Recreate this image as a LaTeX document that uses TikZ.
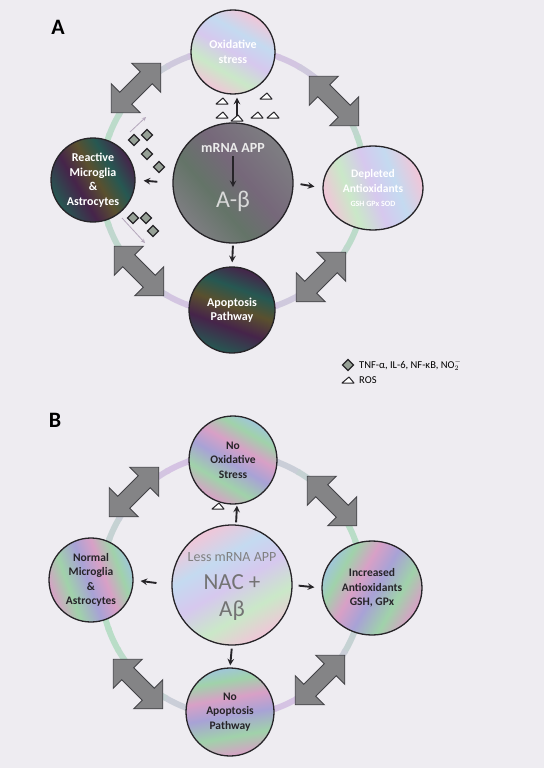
\documentclass[tikz,border=0pt]{standalone}
\usepackage{fontspec}
\setmainfont{Carlito}
\usetikzlibrary{shapes.geometric,shapes.arrows}

% colours of the scan
\definecolor{paper}{RGB}{238,236,241}
\definecolor{ink}{RGB}{38,36,40}
\definecolor{arrowfill}{RGB}{132,132,134}
\definecolor{arrowedge}{RGB}{66,66,70}
\definecolor{ringg}{RGB}{184,222,198}
\definecolor{ringv}{RGB}{214,194,228}
\definecolor{softpink}{RGB}{240,198,216}
\definecolor{softgreen}{RGB}{202,232,200}
\definecolor{softlav}{RGB}{214,200,238}
\definecolor{softblue}{RGB}{196,218,240}
\definecolor{darkteal}{RGB}{38,88,82}
\definecolor{darkplum}{RGB}{70,36,74}
\definecolor{darkolive}{RGB}{90,80,46}
\definecolor{greyg}{RGB}{100,116,104}
\definecolor{greyp}{RGB}{118,104,122}
\definecolor{greym}{RGB}{126,126,130}
\definecolor{midpink}{RGB}{216,160,198}
\definecolor{midgreen}{RGB}{160,210,170}
\definecolor{midlav}{RGB}{168,162,214}
\definecolor{midblue}{RGB}{160,198,216}
\definecolor{tnfgrey}{RGB}{150,160,150}

\pgfdeclarehorizontalshading{paleswirl}{100bp}{color(0bp)=(softpink); color(25bp)=(softpink); color(37bp)=(softgreen); color(50bp)=(softlav); color(62bp)=(softblue); color(75bp)=(softpink); color(100bp)=(softpink)}
\pgfdeclarehorizontalshading{greyswirl}{100bp}{color(0bp)=(greym); color(25bp)=(greym); color(40bp)=(greyg); color(55bp)=(greyp); color(75bp)=(greym); color(100bp)=(greym)}
\pgfdeclarehorizontalshading{darkswirl}{100bp}{color(0bp)=(darkteal); color(25bp)=(darkteal); color(40bp)=(darkplum); color(52bp)=(darkolive); color(63bp)=(darkteal); color(75bp)=(darkplum); color(100bp)=(darkplum)}
\pgfdeclarehorizontalshading{midswirl}{100bp}{color(0bp)=(midpink); color(25bp)=(midpink); color(36bp)=(midgreen); color(48bp)=(midlav); color(58bp)=(midpink); color(68bp)=(midgreen); color(75bp)=(midblue); color(100bp)=(midblue)}

\tikzset{
  stage/.style={circle, draw=ink, line width=1.3pt, inner sep=0pt, align=center,
    font=\bfseries\fontsize{11.5}{14.5}\selectfont},
  pale/.style={shading=paleswirl, shading angle=#1, text=white}, pale/.default=30,
  dim/.style={shading=greyswirl, shading angle=#1}, dim/.default=40,
  dark/.style={shading=darkswirl, shading angle=#1, text=white}, dark/.default=30,
  tint/.style={shading=midswirl, shading angle=#1, text=ink}, tint/.default=30,
  blackarrow/.style={-stealth, line width=1.9pt, ink},
  thinarrow/.style={-stealth, line width=0.8pt, ringv!60!gray},
  twoway/.style={double arrow, double arrow head extend=12pt, minimum height=70pt,
    inner xsep=0pt, inner ysep=8pt, fill=arrowfill, draw=arrowedge, line width=0.9pt},
  ringline/.style={line width=6pt},
  ros/.pic={\draw[ink, line width=1pt, fill=white, line join=round] (-6,0) -- (6,0) -- (1,-6) -- cycle;},
  tnf/.pic={\draw[ink, line width=1.4pt, fill=tnfgrey] (0,-5.5) -- (5.5,0) -- (0,5.5) -- (-5.5,0) -- cycle;},
}

\begin{document}
\begin{tikzpicture}[x=1pt,y=-1pt]
\fill[paper] (0,0) rectangle (544,768);
\useasboundingbox (0,0) rectangle (544,768);

%%%%% panel A
\node[font=\bfseries\fontsize{22}{22}\selectfont] (labA) at (58,27) {A};
\coordinate (hubA) at (233,181);
\foreach \a in {0,10,...,350}{
  \pgfmathtruncatemacro\mix{50+50*cos(2*\a)}
  \draw[ringline, ringg!\mix!ringv] (hubA) ++(\a:132) arc[start angle=\a, delta angle=11, radius=132];
}
\node[twoway, rotate=45] (ttlA) at (136,88) {};
\node[twoway, rotate=-45] (ttrA) at (334,101) {};
\node[twoway, rotate=45] (tbrA) at (321,277) {};
\node[twoway, rotate=-45] (tblA) at (139,271) {};

\node[stage, dim, minimum size=120] (cA) at (233,183) {};
\node[stage, pale=60, minimum size=84, font=\bfseries\fontsize{12}{15}\selectfont] (oxA) at (233,52) {Oxidative\\stress};
\node[stage, dark, minimum size=84, font=\bfseries\fontsize{12}{14.5}\selectfont] (micA) at (93,180) {Reactive\\Microglia\\\&\\Astrocytes};
\node[stage, pale=20, ellipse, minimum width=100, minimum height=84] (antA) at (373,188)
  {Depleted\\Antioxidants\\{\fontsize{8}{9}\selectfont GSH GPx SOD}};
\node[stage, dark=70, minimum size=86, font=\bfseries\fontsize{12}{14.5}\selectfont] (apoA) at (232,310) {Apoptosis\\Pathway};

\node[font=\bfseries\fontsize{14}{14}\selectfont, text=white!92!black] (mrnaA) at (233,148) {mRNA APP};
\node[font=\fontsize{24}{24}\selectfont, text=white!85!black] (abA) at (233,201) {A-β};
\draw[blackarrow] (mrnaA) -- (abA);

\draw[blackarrow, shorten <=4, shorten >=3] ([xshift=4]cA.north) -- ([xshift=4]oxA.south);
\draw[blackarrow, shorten <=15, shorten >=8] (cA.west) -- (micA.east);
\draw[blackarrow, shorten <=7, shorten >=8] (cA.east) -- (antA.west);
\draw[blackarrow, shorten <=2, shorten >=4] (cA.south) -- (apoA.north);

% ROS marks
\foreach \p in {(222,104),(222,118),(266,99),(257,118),(273,118),(237,121)}
  \pic at \p {ros};
% cytokine marks
\foreach \p in {(134,140),(147,135),(147,154),(159,167),(133,218),(146,218),(153,231)}
  \pic at \p {tnf};
\draw[thinarrow] (130,132) -- (146,117);
\draw[thinarrow] (122,218) -- (145,243);

% key
\pic at (348,365) {tnf};
\node[anchor=west, font=\fontsize{10.5}{12}\selectfont, inner sep=0pt] (keyTnf) at (359,365) {TNF-α, IL-6, NF-κB, NO$_2^-$};
\pic at (348,383) {ros};
\node[anchor=west, font=\fontsize{10.5}{12}\selectfont, inner sep=0pt] (keyRos) at (359,380) {ROS};

%%%%% panel B
\node[font=\bfseries\fontsize{22}{22}\selectfont] (labB) at (55,420) {B};
\coordinate (hubB) at (232,585);
\foreach \a in {0,10,...,350}{
  \pgfmathtruncatemacro\mix{50+50*cos(2*\a+40)}
  \draw[ringline, ringg!\mix!ringv] (hubB) ++(\a:131) arc[start angle=\a, delta angle=11, radius=131];
}
\node[twoway, rotate=45] (ttlB) at (134,492) {};
\node[twoway, rotate=-45] (ttrB) at (332,501) {};
\node[twoway, rotate=45] (tbrB) at (320,680) {};
\node[twoway, rotate=-45] (tblB) at (138,684) {};

\node[stage, pale=120, text=ink, minimum size=120] (cB) at (232,585) {};
\node[stage, tint=60, minimum size=88] (oxB) at (233,460) {No\\Oxidative\\Stress};
\node[stage, tint=20, minimum size=84] (micB) at (91,580) {Normal\\Microglia\\\&\\Astrocytes};
\node[stage, tint=150, ellipse, minimum width=100, minimum height=94] (antB) at (372,588) {Increased\\Antioxidants\\GSH, GPx};
\node[stage, tint=100, minimum size=88] (apoB) at (230,712) {No\\Apoptosis\\Pathway};

\node[font=\fontsize{14}{14}\selectfont, text=gray] (mrnaB) at (232,557) {Less mRNA APP};
\node[font=\fontsize{23}{27}\selectfont, text=gray!90!black, align=center] (nacB) at (232,598) {NAC +\\Aβ};

\draw[blackarrow, shorten <=2, shorten >=1] ([xshift=4]cB.north) -- ([xshift=4]oxB.south);
\draw[blackarrow, shorten <=15, shorten >=7] (cB.west) -- (micB.east);
\draw[blackarrow, shorten <=6, shorten >=7] (cB.east) -- (antB.west);
\draw[blackarrow, shorten <=3, shorten >=2] (cB.south) -- (apoB.north);
\pic at (218,509) {ros};
\end{tikzpicture}
\end{document}
